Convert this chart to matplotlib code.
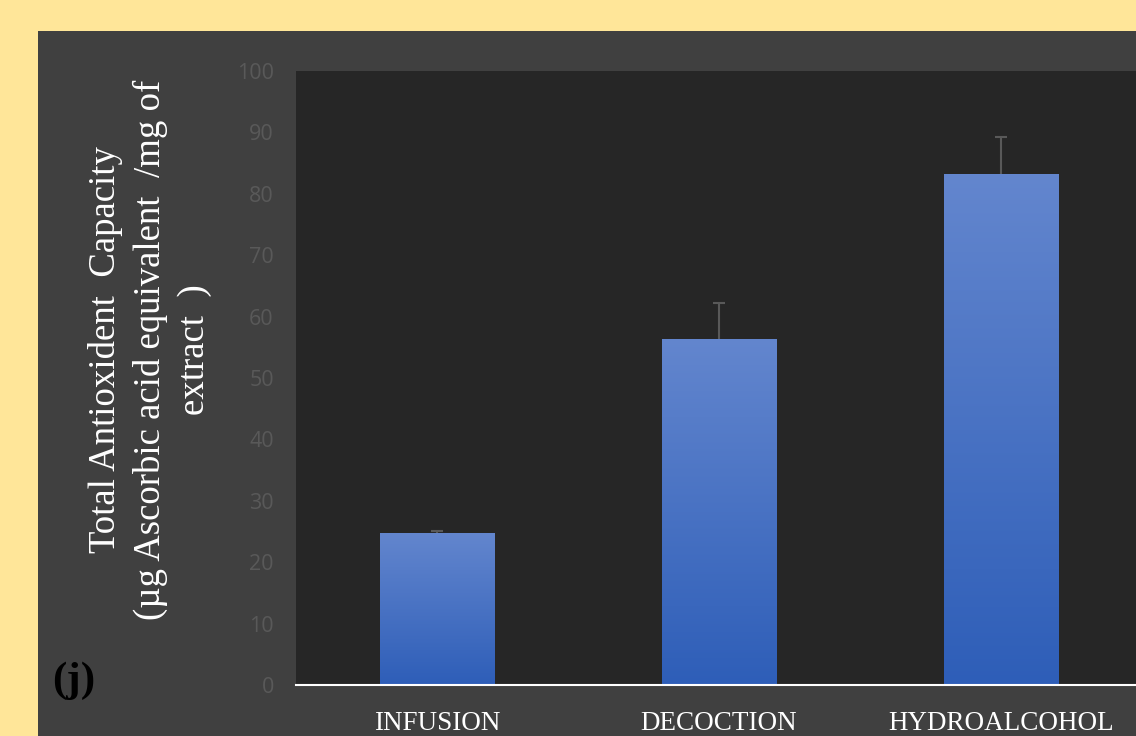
import numpy as np
import matplotlib.pyplot as plt
from matplotlib.colors import LinearSegmentedColormap
from matplotlib.patches import Rectangle

categories = ['INFUSION', 'DECOCTION', 'HYDROALCOHOL']
values = [24.8, 56.4, 83.2]
errors = [0.3, 5.8, 6.0]
yticks = [0, 10, 20, 30, 40, 50, 60, 70, 80, 90, 100]

W, H = 1136, 736
fig = plt.figure(figsize=(W / 100, H / 100), dpi=100)
fig.patch.set_facecolor('#FFE699')

# dark panel behind the chart
fig.patches.append(Rectangle((38 / W, 0), 1 - 38 / W, 1 - 31 / H,
                             transform=fig.transFigure, facecolor='#404040',
                             edgecolor='none', zorder=-1))

ax = fig.add_axes([296 / W, 1 - 685 / H, 1 - 296 / W, (685 - 71) / H])
ax.set_zorder(1)
ax.set_facecolor('#262626')

x = np.arange(len(categories))
bars = ax.bar(x, values, width=0.405, color='#4472C4', zorder=2)

# vertical gradient inside each bar
grad = LinearSegmentedColormap.from_list('bluegrad', ['#2E5EB8', '#6386CE'])
g = np.linspace(0, 1, 256).reshape(-1, 1)
for b in bars:
    x0, w, h = b.get_x(), b.get_width(), b.get_height()
    im = ax.imshow(g, cmap=grad, origin='lower', aspect='auto',
                   extent=(x0, x0 + w, 0, h), zorder=3)
    im.set_clip_path(b)

# upper error only
eb = ax.errorbar(x, values, yerr=[np.zeros(len(values)), errors], fmt='none',
                 ecolor='#595959', elinewidth=1.5, capsize=4.5, capthick=1.5, zorder=1.5)
eb[1][0].set_visible(False)

ax.set_xlim(-0.5, 2.479)
ax.set_ylim(0, 100)
ax.set_yticks(yticks)
ax.set_xticks(x)
ax.set_xticklabels(categories, family='Liberation Serif', fontsize=19.5, color='white')
ax.tick_params(axis='x', length=0, pad=19)
ax.tick_params(axis='y', length=0, pad=16, labelcolor='#595959', labelsize=15.5)
for lab in ax.get_yticklabels():
    lab.set_family('Open Sans')

for s in ['top', 'right', 'left']:
    ax.spines[s].set_visible(False)
ax.spines['bottom'].set_color('white')
ax.spines['bottom'].set_linewidth(1.5)
ax.spines['bottom'].set_zorder(5)

fig.text(150 / W, 1 - 350 / H,
         'Total Antioxident  Capacity\n(µg Ascorbic acid equivalent  /mg of\nextract  )',
         rotation=90, ha='center', va='center', multialignment='center',
         linespacing=1.35, family='Liberation Serif', fontsize=26.5, color='white')

fig.text(74 / W, 1 - 681 / H, '(j)', ha='center', va='center',
         family='Liberation Serif', fontweight='bold', fontsize=31, color='black')

fig.savefig('out.png', dpi=100, facecolor=fig.get_facecolor())
